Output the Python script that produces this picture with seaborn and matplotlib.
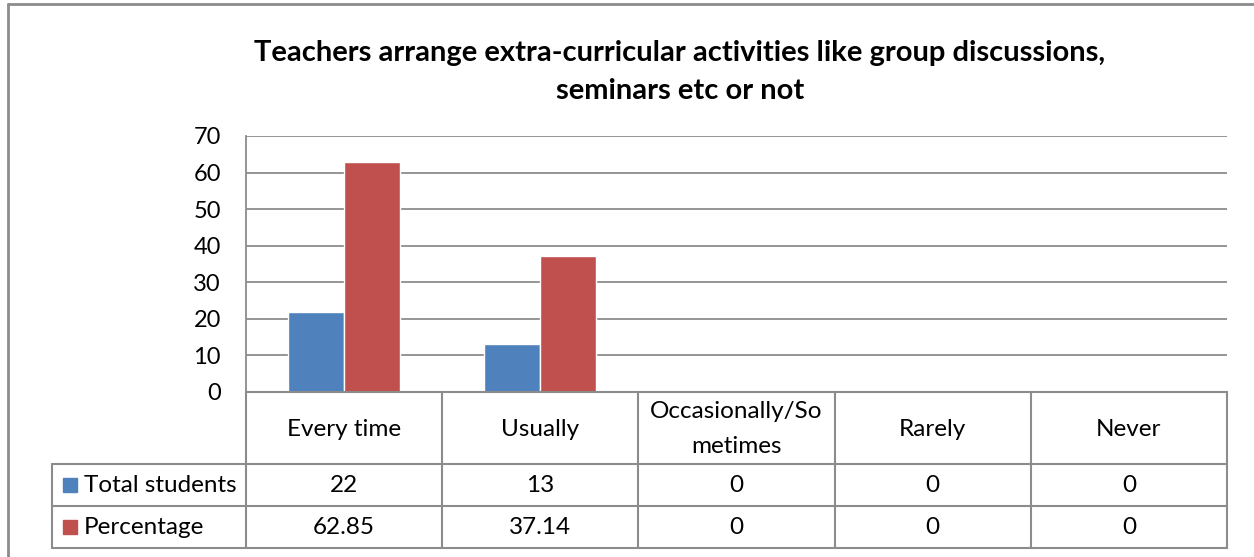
import pandas as pd
import seaborn as sns
import matplotlib.pyplot as plt
from matplotlib.lines import Line2D
from matplotlib.patches import Rectangle

# chart data
categories = ['Every time', 'Usually', 'Occasionally/So\nmetimes', 'Rarely', 'Never']
total_students = [22, 13, 0, 0, 0]
percentage = [62.85, 37.14, 0, 0, 0]
series_names = ['Total students', 'Percentage']
yticks = [0, 10, 20, 30, 40, 50, 60, 70]
title = 'Teachers arrange extra-curricular activities like group discussions,\nseminars etc or not'

colors = {'Total students': '#4F81BD', 'Percentage': '#C0504D'}
grid_col = '#8C8C8C'

df = pd.DataFrame({'category': categories * 2,
                   'series': [series_names[0]] * 5 + [series_names[1]] * 5,
                   'value': total_students + percentage})

sns.set_theme(style='white')
plt.rcParams['font.family'] = ['Lato', 'DejaVu Sans']
plt.rcParams['text.color'] = 'black'
plt.rcParams['ytick.color'] = 'black'

W, H = 1254, 557
fig = plt.figure(figsize=(W / 100, H / 100), dpi=100)

def fx(x):
    return x / W

def fy(y):
    return 1 - y / H

# plot area in pixel coords
left, right, top, bottom = 246, 1227, 136, 392
ax = fig.add_axes([fx(left), fy(bottom), fx(right - left), fy(top) - fy(bottom)])

sns.barplot(data=df, x='category', y='value', hue='series', palette=colors,
            width=0.57, ax=ax, legend=False, saturation=1)

ax.set_ylim(0, 70)
ax.set_xlim(-0.5, 4.5)
ax.set_yticks(yticks)
ax.set_yticklabels([str(t) for t in yticks], fontsize=17, color='black')
ax.set_xticks([])
ax.set_xlabel('')
ax.set_ylabel('')
ax.tick_params(axis='y', length=0, pad=18)
for t in yticks[1:]:
    ax.axhline(t, color=grid_col, lw=1.3, zorder=0)
for s in ['top', 'right', 'bottom']:
    ax.spines[s].set_visible(False)
ax.spines['left'].set_color(grid_col)
ax.spines['left'].set_linewidth(1.3)

# title
fig.text(fx(680), fy(72), title, ha='center', va='center', fontsize=21,
         fontweight='bold', linespacing=1.55, color='black')

# outer frame (top and left edges visible)
fig.add_artist(Line2D([fx(8), fx(1260)], [fy(4), fy(4)], color='#8C8C8C', lw=2))
fig.add_artist(Line2D([fx(8), fx(8)], [fy(4), fy(560)], color='#8C8C8C', lw=2))

# data table
col_x = [left + (right - left) * i / 5 for i in range(6)]
row_y = [392, 464, 506, 548]
label_left = 52

def hline(x0, x1, y):
    fig.add_artist(Line2D([fx(x0), fx(x1)], [fy(y), fy(y)], color=grid_col, lw=1.5))

def vline(x, y0, y1):
    fig.add_artist(Line2D([fx(x), fx(x)], [fy(y0), fy(y1)], color=grid_col, lw=1.5))

hline(left, right, row_y[0])
for y in row_y[1:]:
    hline(label_left, right, y)
for x in col_x:
    vline(x, row_y[0], row_y[3])
vline(label_left, row_y[1], row_y[3])

for i, cat in enumerate(categories):
    cx = (col_x[i] + col_x[i + 1]) / 2
    fig.text(fx(cx), fy(429), cat, ha='center', va='center',
             fontsize=17.5, linespacing=1.8)

for r, (name, vals) in enumerate(zip(series_names, [total_students, percentage])):
    cy = (row_y[r + 1] + row_y[r + 2]) / 2
    fig.add_artist(Rectangle((fx(63), fy(cy + 7)), fx(14), fy(cy - 7) - fy(cy + 7),
                             color=colors[name], transform=fig.transFigure))
    fig.text(fx(84), fy(cy), name, ha='left', va='center', fontsize=17.5)
    for i, v in enumerate(vals):
        cx = (col_x[i] + col_x[i + 1]) / 2
        fig.text(fx(cx), fy(cy), f'{v:g}', ha='center', va='center', fontsize=17.5)

fig.savefig('out.png', dpi=100)
